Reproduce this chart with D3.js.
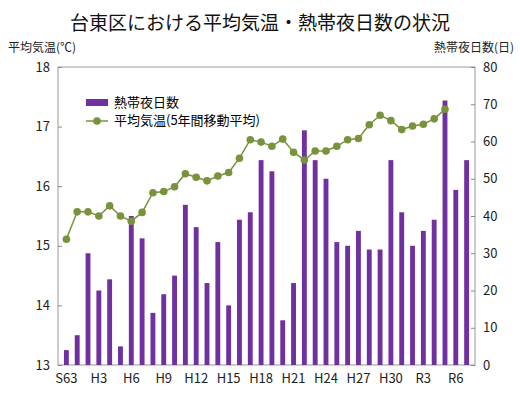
<!DOCTYPE html>
<html lang="ja">
<head>
<meta charset="UTF-8" />
<script src="https://d3js.org/d3.v7.min.js"></script>
<style>
  body { margin: 0; background: #fff; font-family: "Noto Sans CJK JP", sans-serif; }
  .axis text { font-size: 13px; fill: #222; font-family: "Noto Sans CJK JP", sans-serif; }
  .axis path, .axis line { stroke: #888; }
</style>
</head>
<body>
<div id="chart"></div>
<script>
  const years = ["S63","H1","H2","H3","H4","H5","H6","H7","H8","H9","H10","H11","H12","H13","H14","H15","H16","H17","H18","H19","H20","H21","H22","H23","H24","H25","H26","H27","H28","H29","H30","R1","R2","R3","R4","R5","R6","R7"];
  const tickYears = ["S63","H3","H6","H9","H12","H15","H18","H21","H24","H27","H30","R3","R6"];
  const nights = [4,8,30,20,23,5,40,34,14,19,24,43,37,22,33,16,39,41,55,52,12,22,63,55,50,33,32,36,31,31,55,41,32,36,39,71,47,55];
  const temps = [15.11,15.57,15.57,15.50,15.67,15.50,15.41,15.56,15.89,15.91,15.99,16.21,16.15,16.09,16.17,16.23,16.47,16.78,16.74,16.67,16.79,16.57,16.44,16.59,16.59,16.67,16.78,16.80,17.03,17.19,17.10,16.95,17.01,17.04,17.13,17.29,null,null];

  const W = 520, H = 418;
  const m = { top: 67, right: 45, bottom: 53, left: 58 };
  const w = W - m.left - m.right, h = H - m.top - m.bottom;

  const svg = d3.select("#chart").append("svg").attr("width", W).attr("height", H);

  svg.append("text").attr("x", W / 2).attr("y", 30).attr("text-anchor", "middle")
    .attr("font-size", 19).attr("fill", "#111").text("台東区における平均気温・熱帯夜日数の状況");
  svg.append("text").attr("x", 8).attr("y", 52).attr("font-size", 12).attr("fill", "#222").text("平均気温(℃)");
  svg.append("text").attr("x", 514).attr("y", 52).attr("text-anchor", "end").attr("font-size", 12).attr("fill", "#222").text("熱帯夜日数(日)");

  const g = svg.append("g").attr("transform", `translate(${m.left},${m.top})`);
  const x = d3.scaleBand().domain(years).range([0, w]).padding(0.55);
  const yL = d3.scaleLinear().domain([13, 18]).range([h, 0]);
  const yR = d3.scaleLinear().domain([0, 80]).range([h, 0]);

  g.append("rect").attr("width", w).attr("height", h).attr("fill", "none").attr("stroke", "#999");

  g.append("g").attr("class", "axis").call(d3.axisLeft(yL).ticks(5).tickSize(-4).tickPadding(8))
    .call(a => a.select(".domain").remove());
  g.append("g").attr("class", "axis").attr("transform", `translate(${w},0)`)
    .call(d3.axisRight(yR).ticks(8).tickSize(-4).tickPadding(8))
    .call(a => a.select(".domain").remove());
  g.append("g").attr("class", "axis").attr("transform", `translate(0,${h})`)
    .call(d3.axisBottom(x).tickValues(tickYears).tickSize(0).tickPadding(9))
    .call(a => a.select(".domain").remove());

  g.selectAll(".bar").data(nights).enter().append("rect")
    .attr("x", (d, i) => x(years[i])).attr("width", x.bandwidth())
    .attr("y", d => yR(d)).attr("height", d => h - yR(d)).attr("fill", "#7030a0");

  const pts = temps.map((t, i) => ({ t, k: years[i] })).filter(d => d.t != null);
  const cx = d => x(d.k) + x.bandwidth() / 2;
  g.append("path").datum(pts).attr("fill", "none").attr("stroke", "#77933c").attr("stroke-width", 1.5)
    .attr("d", d3.line().x(cx).y(d => yL(d.t)));
  g.selectAll(".dot").data(pts).enter().append("circle")
    .attr("cx", cx).attr("cy", d => yL(d.t)).attr("r", 3.8).attr("fill", "#77933c");

  const lg = g.append("g").attr("transform", "translate(28,36)");
  lg.append("rect").attr("x", 0).attr("y", -4).attr("width", 22).attr("height", 7).attr("fill", "#7030a0");
  lg.append("text").attr("x", 28).attr("y", 4).attr("font-size", 13).text("熱帯夜日数");
  lg.append("line").attr("x1", 0).attr("x2", 22).attr("y1", 18).attr("y2", 18).attr("stroke", "#77933c").attr("stroke-width", 1.5);
  lg.append("circle").attr("cx", 11).attr("cy", 18).attr("r", 3.8).attr("fill", "#77933c");
  lg.append("text").attr("x", 28).attr("y", 22).attr("font-size", 13).text("平均気温(5年間移動平均)");
</script>
</body>
</html>
